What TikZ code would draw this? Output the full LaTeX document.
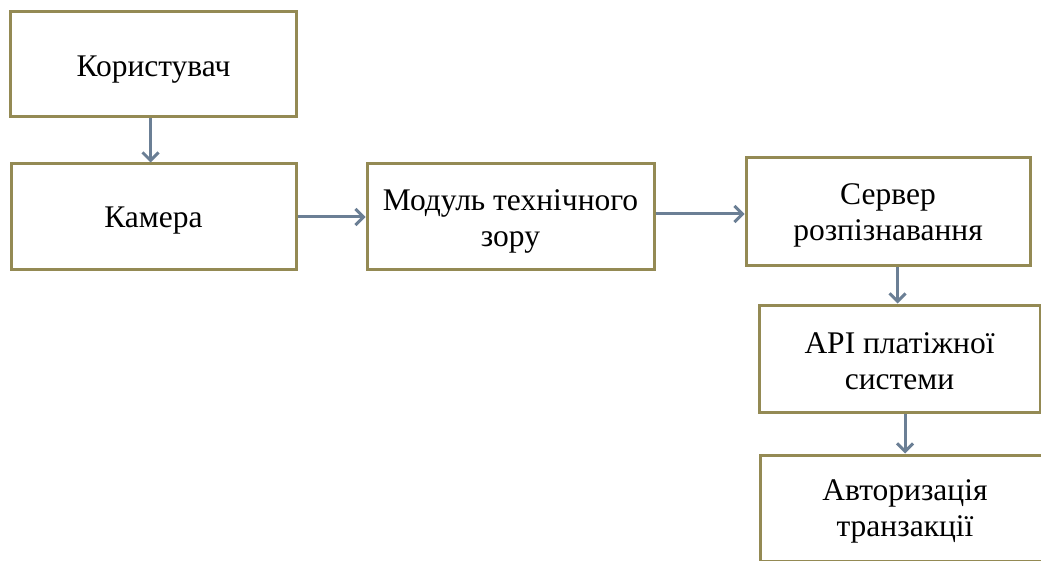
\documentclass[tikz,border=0pt]{standalone}
\usepackage{fontspec}
\setmainfont{Liberation Serif}
\usetikzlibrary{arrows.meta}
\definecolor{boxborder}{HTML}{948A54}
\definecolor{arrcol}{HTML}{6B7F95}
\tikzset{
  box/.style={draw=boxborder, line width=3pt, fill=white, inner sep=0pt},
  txt/.style={align=center, font=\fontsize{31.5}{36}\selectfont, inner sep=0pt},
  arr/.style={draw=arrcol, line width=3pt,
    -{Straight Barb[length=8pt,width=16pt,line width=3pt]}}
}
\begin{document}
\begin{tikzpicture}[x=1pt,y=-1pt]
\useasboundingbox (0,0) rectangle (1041,561);
\clip (0,0) rectangle (1041,561);
\node[box, minimum width=286pt, minimum height=105pt] (u) at (153.5,64.5) {};
\node[box, minimum width=285pt, minimum height=106pt] (c) at (153.5,217) {};
\node[box, minimum width=287pt, minimum height=106pt] (m) at (510.5,217) {};
\node[box, minimum width=284pt, minimum height=108pt] (s) at (888,212) {};
\node[box, minimum width=281pt, minimum height=107pt] (a) at (899.5,358.5) {};
\node[box, minimum width=290pt, minimum height=106pt] (t) at (905,508) {};
\node[txt] (ut) at ([yshift=-5pt]u.center) {Користувач};
\node[txt] (ct) at ([yshift=-4pt]c.center) {Камера};
\node[txt] (mt) at ([yshift=-4pt]m.center) {Модуль технічного\\зору};
\node[txt] (st) at ([yshift=-3pt]s.center) {Сервер\\розпізнавання};
\node[txt] (at) at ([yshift=-3pt]a.center) {API платіжної\\системи};
\node[txt] (tt) at ([yshift=-3pt]t.center) {Авторизація\\транзакції};
\draw[arr] ([xshift=-3pt]u.south) -- ([xshift=-3pt]c.north);
\draw[arr] (c.east) -- (m.west);
\draw[arr] ([yshift=3pt]m.east) -- ([yshift=3pt]m.east -| s.west);
\draw[arr] ([xshift=-2pt]s.south -| a.north) -- ([xshift=-2pt]a.north);
\draw[arr] (a.south -| t.north) -- (t.north);
\end{tikzpicture}
\end{document}
